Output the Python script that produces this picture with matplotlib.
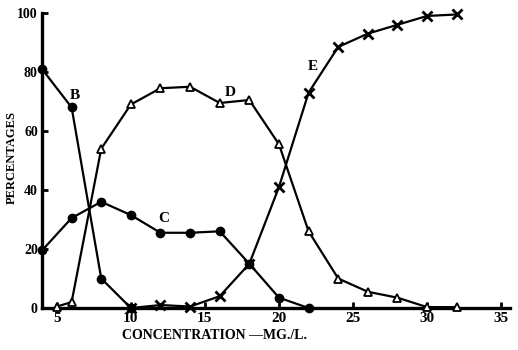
import matplotlib
matplotlib.use("Agg")
import matplotlib.pyplot as plt

# Data
b_x = [4, 6, 8, 10]
b_y = [81, 68, 10, 0]

c_x = [4, 6, 8, 10, 12, 14, 16, 18, 20, 22]
c_y = [19.5, 30.5, 36, 31.5, 25.5, 25.5, 26, 15, 3.5, 0]

d_x = [5, 6, 8, 10, 12, 14, 16, 18, 20, 22, 24, 26, 28, 30, 32]
d_y = [0.5, 2, 54, 69, 74.5, 75, 69.5, 70.5, 55.5, 26, 10, 5.5, 3.5, 0.3, 0.3]

e_x = [10, 12, 14, 16, 18, 20, 22, 24, 26, 28, 30, 32]
e_y = [0, 1, 0.5, 4, 15, 41, 73, 88.5, 93, 96, 99, 99.5]

x_ticks = [5, 10, 15, 20, 25, 30, 35]
y_ticks = [0, 20, 40, 60, 80, 100]

curve_labels = [("B", 6.2, 72), ("C", 12.2, 30.5), ("D", 16.7, 73), ("E", 22.3, 82)]

font = "Liberation Serif"

fig = plt.figure(figsize=(5.18, 3.5), dpi=100)
ax = fig.add_axes([42 / 518, 42 / 350, (510 - 42) / 518, (308 - 13) / 350])

lw = 1.6
ax.plot(b_x, b_y, color="black", lw=lw, marker="o", ms=6, mfc="black", mec="black", zorder=3, clip_on=False)
ax.plot(c_x, c_y, color="black", lw=lw, marker="o", ms=6, mfc="black", mec="black", zorder=3, clip_on=False)
ax.plot(d_x, d_y, color="black", lw=lw, marker="^", ms=5.5, mfc="white", mec="black", mew=1.3, zorder=3, clip_on=False)
ax.plot(e_x, e_y, color="black", lw=lw, marker="x", ms=6.5, mec="black", mew=2, zorder=3, clip_on=False)

for txt, x, y in curve_labels:
    ax.text(x, y, txt, fontsize=11, fontweight="bold", family=font, ha="center", va="center")

ax.set_xlim(4, 35.6)
ax.set_ylim(0, 100)
ax.set_xticks(x_ticks)
ax.set_yticks(y_ticks)
ax.set_xticklabels([str(v) for v in x_ticks], fontsize=11, fontweight="bold", family=font)
ax.set_yticklabels([str(v) for v in y_ticks], fontsize=10, fontweight="bold", family=font)
ax.tick_params(axis="both", direction="in", length=4, width=2, pad=3)

for s in ["top", "right"]:
    ax.spines[s].set_visible(False)
for s in ["left", "bottom"]:
    ax.spines[s].set_linewidth(2.4)

ax.set_xlabel("CONCENTRATION \u2014MG./L.", fontsize=10, fontweight="bold", family=font, labelpad=2)
ax.xaxis.set_label_coords((215 - 42) / (510 - 42), -0.07)
ax.set_ylabel("PERCENTAGES", fontsize=9, fontweight="bold", family=font, labelpad=2)
ax.yaxis.set_label_coords(-0.052, (308 - 158) / (308 - 13))

fig.savefig("out.png", dpi=100, facecolor="white")
